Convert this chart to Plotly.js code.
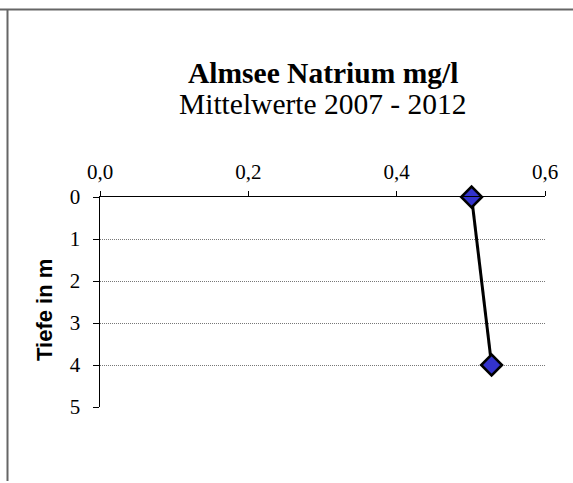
<!DOCTYPE html>
<html>
<head>
<meta charset="utf-8">
<script src="https://cdn.plot.ly/plotly-3.0.1.min.js"></script>
<style>html,body{margin:0;padding:0;background:#fff;}</style>
</head>
<body>
<div id="chart" style="width:573px;height:483px;"></div>
<script>
const natrium = [0.501, 0.528];
const tiefe = [0, 4];
const xTicks = [0, 0.2, 0.4, 0.6];
const yTicks = [0, 1, 2, 3, 4, 5];
const titleMain = "Almsee Natrium mg/l";
const titleSub = "Mittelwerte 2007 - 2012";
const yTitle = "Tiefe in m";

const trace = {
  x: natrium, y: tiefe, type: 'scatter', mode: 'lines+markers',
  line: {color: '#000', width: 3},
  marker: {symbol: 'diamond', size: 16, color: '#3333CC', line: {color: '#000', width: 2.5}},
  cliponaxis: false, hoverinfo: 'none'
};

const py = p => (407 - p) / 210;
const px = p => (p - 100) / 445;

const layout = {
  width: 573, height: 483,
  margin: {l: 100, r: 28, t: 197, b: 76},
  paper_bgcolor: '#fff', plot_bgcolor: '#fff',
  separators: ',.',
  showlegend: false,
  font: {family: 'Liberation Serif', color: '#000', size: 21},
  xaxis: {
    side: 'top', range: [0, 0.6], tickvals: xTicks, tickformat: '.1f',
    showgrid: false, zeroline: false, showline: true, linecolor: '#000', linewidth: 1.5,
    ticks: 'outside', ticklen: 5, tickcolor: '#000', tickwidth: 1,
    ticklabelstandoff: 3,
    tickfont: {family: 'Liberation Serif', size: 21, color: '#000'}
  },
  yaxis: {
    range: [5, 0], tickvals: yTicks, autorange: false,
    showgrid: true, gridcolor: '#777', griddash: '1px,1px', gridwidth: 1,
    zeroline: false, showline: true, linecolor: '#000', linewidth: 1.5,
    ticks: 'outside', ticklen: 6, tickcolor: '#000', tickwidth: 1,
    ticklabelstandoff: 8,
    tickfont: {family: 'Liberation Serif', size: 21, color: '#000'}
  },
  annotations: [
    {text: '<b>' + titleMain + '</b>', showarrow: false, xref: 'paper', yref: 'paper',
     x: 0.5, y: py(73), xanchor: 'center', yanchor: 'middle',
     font: {family: 'Liberation Serif', size: 29.5, color: '#000'}},
    {text: titleSub, showarrow: false, xref: 'paper', yref: 'paper',
     x: 0.5, y: py(104), xanchor: 'center', yanchor: 'middle',
     font: {family: 'Liberation Serif', size: 29.5, color: '#000'}},
    {text: '<b>' + yTitle + '</b>', textangle: -90, showarrow: false,
     xref: 'paper', yref: 'paper', x: px(44), y: py(310),
     xanchor: 'center', yanchor: 'middle',
     font: {family: 'Liberation Sans', size: 22, color: '#000'}}
  ],
  shapes: [
    {type: 'line', xref: 'paper', yref: 'paper', x0: -0.3, x1: 1.1, y0: py(9.5), y1: py(9.5), line: {color: '#666', width: 2}},
    {type: 'line', xref: 'paper', yref: 'paper', x0: px(7.5), x1: px(7.5), y0: py(9.5), y1: py(481), line: {color: '#666', width: 2}}
  ]
};

Plotly.newPlot('chart', [trace], layout, {displayModeBar: false, staticPlot: true});
</script>
</body>
</html>
